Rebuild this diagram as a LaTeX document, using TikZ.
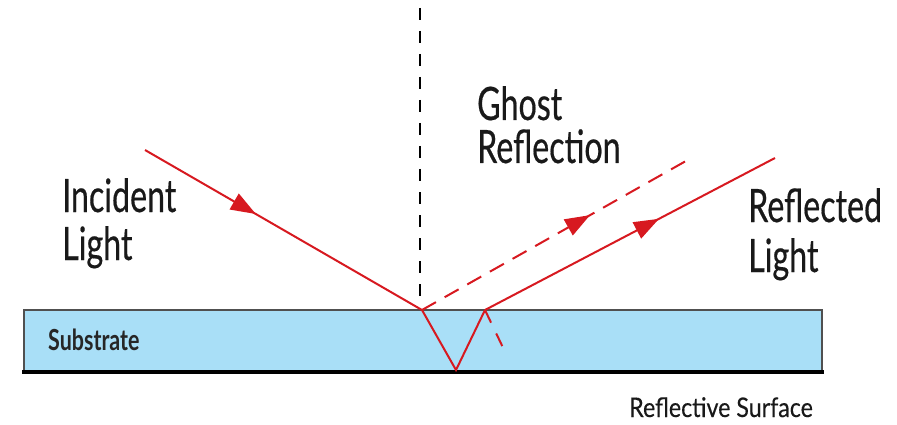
\documentclass[tikz,border=0pt]{standalone}
\usepackage{fontspec}
\usetikzlibrary{arrows.meta,decorations.markings}
\newfontfamily\biglbl{Lato}[FakeStretch=0.70,FakeBold=0.4]
\newfontfamily\smalllbl{Lato}[FakeStretch=0.86,FakeBold=0.3]
\newfontfamily\sublbl{Lato Bold}[FakeStretch=0.74]
\definecolor{rayred}{HTML}{D71920}
\definecolor{subblue}{HTML}{A9DFF7}
\definecolor{edgegray}{HTML}{505050}
\tikzset{
  ray/.style={draw=rayred, line width=2pt},
  ghostray/.style={ray, dash pattern=on 16pt off 10pt},
  normalline/.style={draw=black, line width=2pt, dash pattern=on 12pt off 11pt},
  arrowat/.style={postaction={decorate}, decoration={markings,
     mark=at position #1 with {\arrow[solid,rayred]{Triangle[length=25pt,width=18pt]}}}},
  biglabel/.style={anchor=base west, inner sep=0pt, font=\biglbl\fontsize{46}{48}\selectfont, text=black!90},
  smalllabel/.style={anchor=base west, inner sep=0pt, font=\smalllbl\fontsize{27}{28}\selectfont, text=black!90},
  sublabel/.style={anchor=base west, inner sep=0pt, font=\sublbl\fontsize{29}{30}\selectfont, text=black!85},
}
\begin{document}
\begin{tikzpicture}[x=1pt,y=-1pt]
\useasboundingbox (0,0) rectangle (897,425);
% substrate
\fill[subblue] (24,310) rectangle (822,372);
\draw[edgegray, line width=1.5pt] (24,372) -- (24,310) -- (822,310) -- (822,372);
\draw[black, line width=4pt] (22,372) -- (824,372);
\node[sublabel] (sub) at (48,350) {Substrate};
% key points
\coordinate (src) at (145,150);
\coordinate (hit) at (422,310);
\coordinate (bot) at (456,370);
\coordinate (exit) at (485,310);
\coordinate (refl) at (775,158);
\coordinate (ghost) at (693,157);
\coordinate (ghostin) at (507,356);
\coordinate (ntop) at (420,8);
\coordinate (nbot) at (420,306);
% normal
\draw[normalline] (ntop) -- (nbot);
% rays
\draw[ray, arrowat=0.40] (src) -- (hit);
\draw[ray, line join=miter] (hit) -- (bot) -- (exit);
\draw[ray, arrowat=0.60] (exit) -- (refl);
\draw[ghostray, arrowat=0.62] (hit) -- (ghost);
\draw[ghostray, dash pattern=on 14pt off 12pt] (exit) -- (ghostin);
% labels
\node[biglabel] (inc1) at (62,212) {Incident};
\node[biglabel] (inc2) at (62,260) {Light};
\node[biglabel] (gh1) at (477,120) {Ghost};
\node[biglabel] (gh2) at (477,163) {Reflection};
\node[biglabel] (rf1) at (748,222) {Reflected};
\node[biglabel] (rf2) at (748,272) {Light};
\node[smalllabel] (rs) at (629,417) {Reflective Surface};
\end{tikzpicture}
\end{document}
